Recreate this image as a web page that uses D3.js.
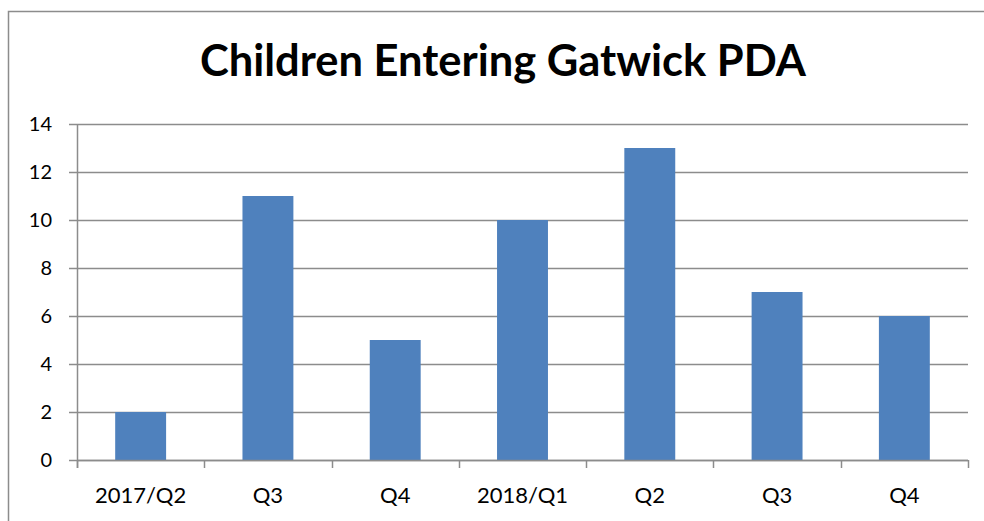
<!DOCTYPE html>
<html>
<head>
<meta charset="utf-8">
<script src="https://cdn.jsdelivr.net/npm/d3@7/dist/d3.min.js"></script>
<style>
  body { margin: 0; background: #fff; }
  text { font-family: Lato, "Open Sans", sans-serif; }
</style>
</head>
<body>
<div id="chart"></div>
<script>
const categories = ['2017/Q2', 'Q3', 'Q4', '2018/Q1', 'Q2', 'Q3', 'Q4'];
const values = [2, 11, 5, 10, 13, 7, 6];
const yTicks = [0, 2, 4, 6, 8, 10, 12, 14];
const title = 'Children Entering Gatwick PDA';

const W = 984, H = 521;
const margin = {top: 124, right: 16, bottom: 61, left: 77};
const width = W - margin.left - margin.right;
const height = H - margin.top - margin.bottom;

const svg = d3.select('#chart').append('svg')
  .attr('width', W)
  .attr('height', H);

// outer frame
svg.append('path')
  .attr('d', 'M8.5,' + H + ' V11.5 H' + W)
  .attr('fill', 'none')
  .attr('stroke', '#8c8c8c')
  .attr('stroke-width', 1.5);

svg.append('text')
  .attr('x', 503)
  .attr('y', 76)
  .attr('text-anchor', 'middle')
  .attr('font-size', 43)
  .attr('font-weight', 'bold')
  .attr('textLength', 606)
  .attr('lengthAdjust', 'spacingAndGlyphs')
  .text(title);

const g = svg.append('g')
  .attr('transform', 'translate(' + margin.left + ',' + margin.top + ')');

const x = d3.scaleBand()
  .domain(d3.range(categories.length))
  .range([0, width])
  .padding(0);

const y = d3.scaleLinear()
  .domain([0, 14])
  .range([height, 0]);

// gridlines + y ticks
g.append('g')
  .selectAll('line')
  .data(yTicks)
  .join('line')
  .attr('x1', -8)
  .attr('x2', width)
  .attr('y1', d => Math.round(y(d)) + 0.5)
  .attr('y2', d => Math.round(y(d)) + 0.5)
  .attr('stroke', '#8c8c8c')
  .attr('stroke-width', 1.5);

g.append('g')
  .selectAll('text')
  .data(yTicks)
  .join('text')
  .attr('x', -25)
  .attr('y', d => y(d))
  .attr('dy', '0.36em')
  .attr('text-anchor', 'end')
  .attr('font-size', 20)
  .text(d => d);

// bars
const bw = x.bandwidth() * 0.4;
g.append('g')
  .selectAll('rect')
  .data(values)
  .join('rect')
  .attr('x', (d, i) => x(i) + x.bandwidth() / 2 - bw / 2)
  .attr('y', d => y(d))
  .attr('width', bw)
  .attr('height', d => y(0) - y(d))
  .attr('fill', '#4f81bd');

// y axis line
g.append('line')
  .attr('x1', 0.5).attr('x2', 0.5)
  .attr('y1', 0).attr('y2', height + 8)
  .attr('stroke', '#8c8c8c')
  .attr('stroke-width', 1.5);

// x axis line + category ticks
g.append('line')
  .attr('x1', 0).attr('x2', width)
  .attr('y1', height + 0.5).attr('y2', height + 0.5)
  .attr('stroke', '#8c8c8c')
  .attr('stroke-width', 1.5);

const tickPos = d3.range(categories.length + 1).map(i => i < categories.length ? x(i) : width);
g.append('g')
  .selectAll('line')
  .data(tickPos)
  .join('line')
  .attr('x1', d => Math.round(d) + 0.5)
  .attr('x2', d => Math.round(d) + 0.5)
  .attr('y1', height)
  .attr('y2', height + 8)
  .attr('stroke', '#8c8c8c')
  .attr('stroke-width', 1.5);

g.append('g')
  .selectAll('text')
  .data(categories)
  .join('text')
  .attr('x', (d, i) => x(i) + x.bandwidth() / 2)
  .attr('y', height + 43)
  .attr('text-anchor', 'middle')
  .attr('font-size', 22)
  .text(d => d);
</script>
</body>
</html>
